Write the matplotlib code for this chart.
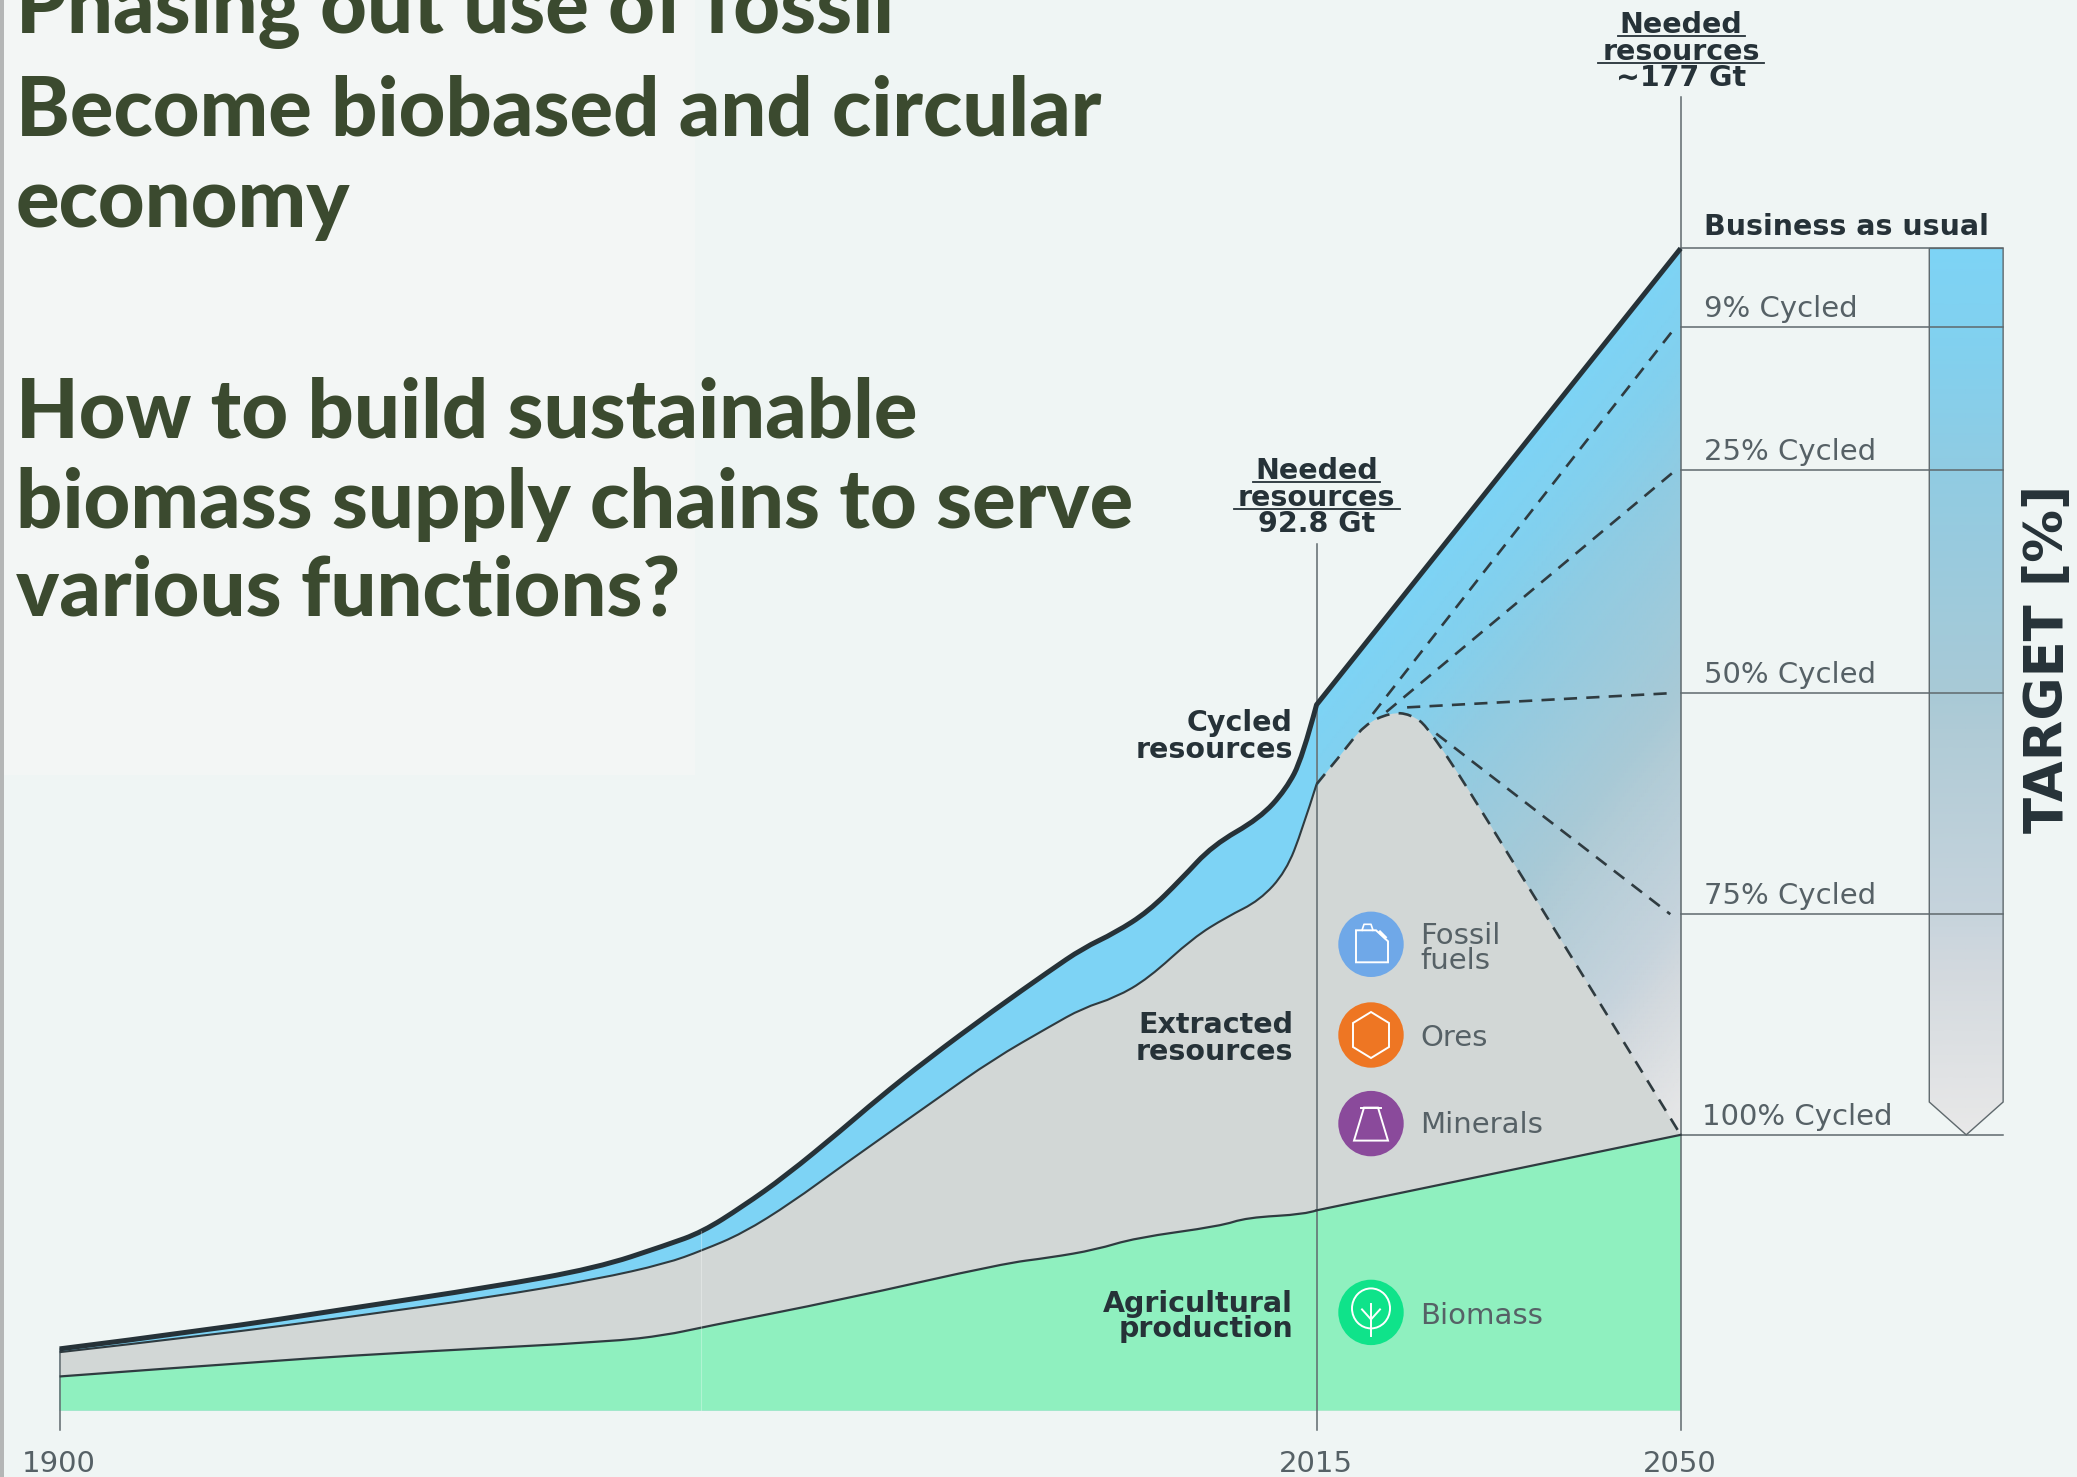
import numpy as np
import matplotlib
matplotlib.use('Agg')
import matplotlib.pyplot as plt
from matplotlib.colors import LinearSegmentedColormap
from matplotlib.patches import Circle, Ellipse, PathPatch, Polygon, Rectangle
from matplotlib.path import Path

# Values (years, height on the chart in its Gt scale)
total_years = [1900, 1913.8, 1926.7, 1939.4, 1949.1, 1955.5, 1958.8, 1962.5, 1966.4, 1971.6, 1974.8, 1979.4,
               1985.4, 1990.6, 1993.6, 1996.6, 1999.6, 2002.6, 2005.5, 2009.8, 2012.2, 2013.7, 2015]
total_vals = [9.4, 12.3, 15.6, 18.8, 21.7, 25.2, 27.2, 31.1, 35.7, 42.8, 47.4, 53.5,
              60.9, 67.0, 70.4, 72.8, 76.0, 80.9, 86.1, 90.2, 94.6, 99.4, 107.5]
total_2050 = 177

extracted_years = [1900, 1913.8, 1926.7, 1939.5, 1949.1, 1955.5, 1958.8, 1962.5, 1967.0, 1971.6, 1980.2, 1985.4,
                   1990.6, 1993.6, 1996.6, 1999.6, 2003.7, 2006.8, 2009.8, 2012.2, 2013.7, 2015]
extracted_vals = [8.9, 11.5, 14.3, 17.3, 20.0, 22.4, 24.4, 27.0, 31.7, 37.3, 47.4, 53.5,
                  58.5, 61.3, 62.9, 65.8, 72.0, 75.2, 77.7, 82.1, 88.5, 95.4]

# extracted resources after 2015 (dashed hump down to the 100% cycled point)
hump_years = [2015, 2017.3, 2019.6, 2022.1, 2024.0, 2025.9, 2033.4, 2050]
hump_vals = [95.4, 99.8, 104.5, 106.3, 106.1, 103.9, 84.9, 42]

biomass_years = [1900, 1920.2, 1933.1, 1950.4, 1955.5, 1958.8, 1971.6, 1986.3, 1990.6, 1994.8, 1998.4,
                 2006.2, 2008.6, 2014, 2015]
biomass_vals = [5.2, 7.7, 9.0, 10.5, 11.5, 12.7, 16.9, 22.4, 23.3, 24.5, 26.3,
                28.1, 29.4, 29.9, 30.5]
biomass_2050 = 42

# scenario lines: where they leave the hump and where they end in 2050
scenario_labels = ['Business as usual', '9% Cycled', '25% Cycled', '50% Cycled', '75% Cycled', '100% Cycled']
scenario_levels = [177, 165, 143.2, 109.3, 75.6, 42]
dash_start_years = [2020.4, 2021.7, 2023.7, 2026.5]
dash_start_vals = [106.1, 106.4, 107.1, 103.1]
dash_end_years = [2049.5, 2049.5, 2049.5, 2049.0]
dash_end_vals = [165, 143.2, 109.3, 75.6]

tick_years = [1900, 2015, 2050]
tick_labels = ['1900', '2015', '2050']

W, H = 2077, 1477
BG = '#eff5f4'
DARK = '#263238'
GREY_TXT = '#566166'
LINE = '#5f696d'
CURVE = '#2f3b40'

plt.rcParams['font.family'] = ['DejaVu Sans']


# the time axis of the original is not quite linear: two stretches
def year_to_px(y):
    y = np.asarray(y, dtype=float)
    return np.where(y <= 2015, 59.6 + (y - 1900) * 10.93, 1316.6 + (y - 2015) * 10.402)


def px_to_year(p):
    p = np.asarray(p, dtype=float)
    return np.where(p <= 1316.6, 1900 + (p - 59.6) / 10.93, 2015 + (p - 1316.6) / 10.402)


# path through the read points, rounded off with quadratic pieces
def smooth(xs, ys):
    pts = np.column_stack([xs, ys])
    verts = [pts[0]]
    codes = [Path.MOVETO]
    for i in range(1, len(pts) - 1):
        end = pts[-1] if i == len(pts) - 2 else (pts[i] + pts[i + 1]) / 2
        verts += [pts[i], end]
        codes += [Path.CURVE3, Path.CURVE3]
    return verts, codes


def area_below(xs, ys, extra=()):
    verts, codes = smooth(xs, ys)
    for p in list(extra) + [(xs[-1] if not extra else extra[-1][0], 0), (xs[0], 0), (xs[0], ys[0])]:
        verts.append(p)
        codes.append(Path.LINETO)
    return Path(verts, codes)


fig = plt.figure(figsize=(W / 100, H / 100), dpi=100, facecolor=BG)
ax = fig.add_axes([0, 0, 1, 1], facecolor='none')
ax.set_xscale('function', functions=(year_to_px, px_to_year))
ax.set_xlim(float(px_to_year(0)), float(px_to_year(W)))
ax.set_ylim(-10.11, 214.83)
ax.axis('off')

# overlay in picture pixels for the text and icons
deco = fig.add_axes([0, 0, 1, 1], facecolor='none')
deco.set_xlim(0, W)
deco.set_ylim(H, 0)
deco.axis('off')

deco.add_patch(Rectangle((0, 0), 695, 775, color='#f3f6f5', lw=0, zorder=0))
deco.add_patch(Rectangle((0, 0), 3.5, H, color='#b4b6b6', lw=0, zorder=5))
deco.plot([701, 701], [1231, 1410], color='white', alpha=0.3, lw=0.8)

cmap = LinearSegmentedColormap.from_list('cycled', [
    (0.0, '#e8e8e8'), (0.18, '#d3d9de'), (0.25, '#c6d3dc'), (0.45, '#b0cbd6'),
    (0.5, '#a8c9d6'), (0.75, '#90cbe2'), (0.88, '#82d0ee'), (1.0, '#7dd3f5')])

# colour fan between the hump and the business as usual line, the grey area goes over it
gx, gy = np.meshgrid(np.linspace(2015, 2050, 181), np.linspace(42, 177, 181))
slope = (total_2050 - total_vals[-1]) / 35
fan = ax.pcolormesh(gx, gy, gy - slope * (gx - 2050), cmap=cmap, vmin=42, vmax=177, shading='gouraud', zorder=1)
fan_poly = Polygon([(2015, 42), (2015, total_vals[-1]), (2050, total_2050), (2050, 42)],
                   closed=True, transform=ax.transData, fc='none', ec='none')
ax.add_patch(fan_poly)
fan.set_clip_path(fan_poly)

# areas, each one reaches down to the baseline and covers the previous one
ax.add_patch(PathPatch(area_below(total_years, total_vals), fc='#7dd3f5', lw=0, zorder=1.1))
ext_x = extracted_years + hump_years[1:]
ext_y = extracted_vals + hump_vals[1:]
ax.add_patch(PathPatch(area_below(ext_x, ext_y), fc='#d2d7d6', lw=0, zorder=1.2))
ax.add_patch(PathPatch(area_below(biomass_years, biomass_vals, [(2050, biomass_2050)]), fc='#8ff0bf', lw=0, zorder=1.3))

# target bar with arrow tip
bx, by = np.meshgrid(np.linspace(2073.9, 2081, 3), np.linspace(42, 177, 181))
bar = ax.pcolormesh(bx, by, by, cmap=cmap, vmin=42, vmax=177, shading='gouraud', zorder=1)
bar_poly = Polygon([(2073.9, 177), (2081, 177), (2081, 47), (2077.45, 42), (2073.9, 47)],
                   closed=True, transform=ax.transData, fc='none', ec=LINE, lw=1.0, zorder=2)
ax.add_patch(bar_poly)
bar.set_clip_path(bar_poly)

# scenario levels
for i, lev in enumerate(scenario_levels):
    ax.plot([2050, 2081], [lev, lev], color=LINE, lw=1.1, zorder=2)
    ly = 1410.6 - lev * 6.566 - (21 if i == 0 else 18)
    deco.text(1704 if i < 5 else 1702, ly, scenario_labels[i], fontsize=20.5 if i == 0 else 21,
              fontweight='bold' if i == 0 else 'normal', color=DARK if i == 0 else GREY_TXT,
              ha='left', va='center')

# time lines
ax.plot([1900, 1900], [-2.9, 9.4], color=LINE, lw=1.1, zorder=3)
ax.plot([2015, 2015], [-2.9, 132.0], color=LINE, lw=1.1, zorder=3)
ax.plot([2050, 2050], [-2.9, 200.0], color=LINE, lw=1.1, zorder=3)

# curves
v, c = smooth(biomass_years, biomass_vals)
ax.add_patch(PathPatch(Path(v, c), fc='none', ec=CURVE, lw=1.6, zorder=4))
ax.plot([biomass_years[-1], 2050], [biomass_vals[-1], biomass_2050], color=CURVE, lw=1.6, zorder=4)
v, c = smooth(extracted_years, extracted_vals)
ax.add_patch(PathPatch(Path(v, c), fc='none', ec=CURVE, lw=1.5, zorder=4))
v, c = smooth(total_years, total_vals)
ax.add_patch(PathPatch(Path(v + [(2050, total_2050)], c + [Path.LINETO]), fc='none', ec=DARK, lw=3.6, zorder=5,
                       joinstyle='round'))
v, c = smooth(hump_years, hump_vals)
ax.add_patch(PathPatch(Path(v, c), fc='none', ec=CURVE, lw=1.9, ls=(0, (5, 3.5)), zorder=4))
for x0, y0, x1, y1 in zip(dash_start_years, dash_start_vals, dash_end_years, dash_end_vals):
    ax.plot([x0, x1], [y0, y1], color=CURVE, lw=1.9, ls=(0, (5, 3.5)), zorder=4)

# year labels
for yr, lab in zip(tick_years, tick_labels):
    deco.text(float(year_to_px(yr)) - 1, 1464, lab, fontsize=21, color=GREY_TXT, ha='center', va='center')

# headline text
TITLE = '#3b4a2f'
title_lines = [('Phasing out use of fossil', 33), ('Become biobased and circular', 135), ('economy', 227),
               ('How to build sustainable', 437), ('biomass supply chains to serve', 528),
               ('various functions?', 615)]
for txt, base in title_lines:
    deco.text(16, base, txt, fontsize=58.5, fontweight=900, family='Lato', color=TITLE, ha='left', va='baseline')


# needed resources labels
def needed(cx, ys, val, widths):
    for y, txt, wd in zip(ys, ['Needed', 'resources', val], widths):
        deco.text(cx, y, txt, fontsize=20.5, fontweight='bold', color=DARK, ha='center', va='center')
        if wd:
            deco.plot([cx - wd / 2, cx + wd / 2], [y + 11, y + 11], color=DARK, lw=1.3)


needed(1681, [25, 52, 78], '~177 Gt', [127, 166, 0])
needed(1316.6, [471, 498, 524], '92.8 Gt', [127, 166, 0])

# side labels
for txt, y in [('Cycled', 723), ('resources', 750), ('Extracted', 1025), ('resources', 1052),
               ('Agricultural', 1304), ('production', 1329)]:
    deco.text(1293, y, txt, fontsize=20.5, fontweight='bold', color=DARK, ha='right', va='center')
for txt, y in [('Fossil', 936), ('fuels', 961), ('Ores', 1038), ('Minerals', 1125), ('Biomass', 1316)]:
    deco.text(1420, y, txt, fontsize=21, color=GREY_TXT, ha='left', va='center')
deco.text(2048, 659, 'TARGET [%]', fontsize=38, fontweight='bold', color=DARK, rotation=90, ha='center', va='center')

# icons
R = 32.7
cx = 1371
ic_y = [944.3, 1035, 1123.6, 1312.4]
ic_col = ['#6fa8e8', '#ee7623', '#8a4a9b', '#0fe38a']
for y, col in zip(ic_y, ic_col):
    deco.add_patch(Circle((cx, y), R, color=col, lw=0))

wht = dict(fc='none', ec='white', lw=1.4, zorder=6)
y = ic_y[0]
deco.add_patch(Polygon([(cx - 15, y - 14), (cx + 5, y - 14), (cx + 17, y - 3), (cx + 17, y + 18), (cx - 15, y + 18)],
                       closed=True, **wht))
deco.plot([cx - 9, cx - 7, cx, cx + 2], [y - 14, y - 20, y - 20, y - 14], color='white', lw=1.2, zorder=6)
deco.plot([cx + 9, cx + 14], [y - 12, y - 7], color='white', lw=2.4, zorder=6)
y = ic_y[1]
deco.add_patch(Polygon([(cx, y - 23), (cx + 18, y - 12), (cx + 18, y + 12), (cx, y + 23), (cx - 18, y + 12),
                        (cx - 18, y - 12)], closed=True, **wht))
y = ic_y[2]
deco.add_patch(Polygon([(cx - 7, y - 16), (cx + 7, y - 16), (cx + 17, y + 17), (cx - 17, y + 17)], closed=True, **wht))
deco.plot([cx - 10, cx + 10], [y - 16, y - 16], color='white', lw=1.4, zorder=6)
y = ic_y[3]
deco.add_patch(Ellipse((cx, y - 4), 38, 40, **wht))
deco.plot([cx, cx], [y - 8, y + 24], color='white', lw=1.4, zorder=6)
deco.plot([cx - 9, cx, cx + 9], [y - 3, y + 7, y - 3], color='white', lw=1.4, zorder=6)

fig.savefig('out.png', dpi=100, facecolor=BG)
